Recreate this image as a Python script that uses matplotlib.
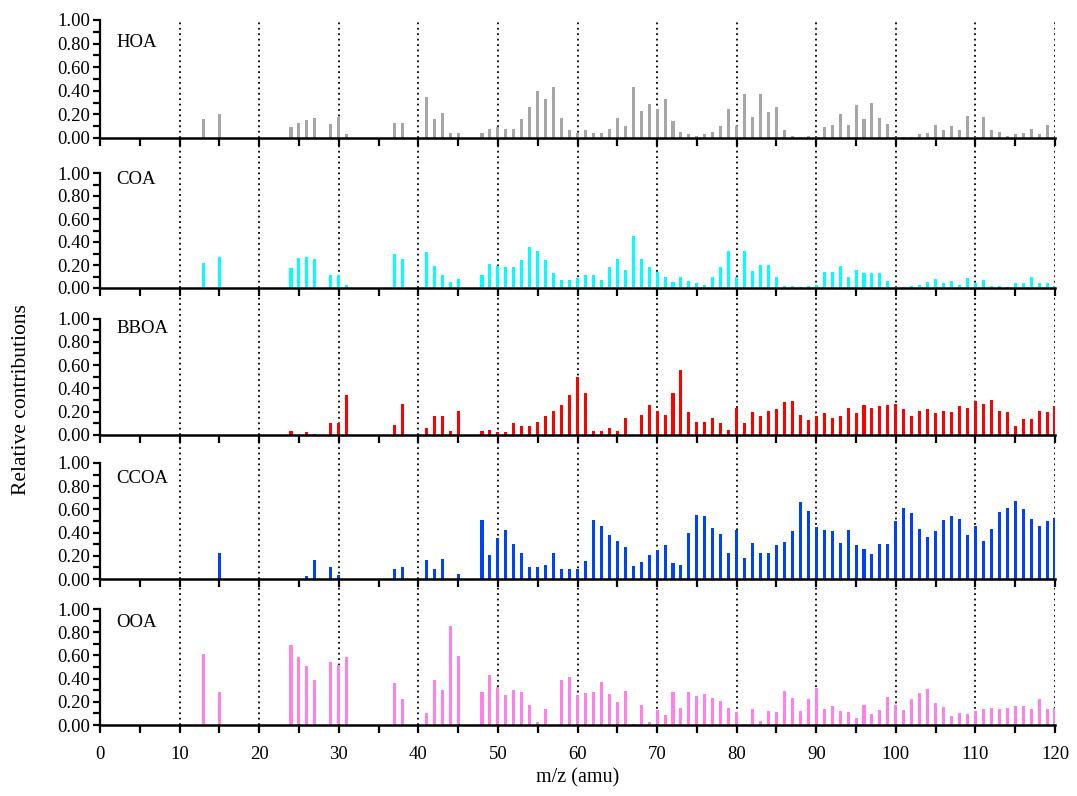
import numpy as np
import matplotlib
matplotlib.use("Agg")
import matplotlib.pyplot as plt
from matplotlib.ticker import MultipleLocator, FormatStrFormatter

plt.rcParams['font.family'] = ['Liberation Serif', 'DejaVu Serif']

# m/z channels shown in the factor profiles
mz = [13, 15, 24, 25, 26, 27, 29, 30, 31, 37, 38, 41, 42, 43, 44, 45,
      48, 49, 50, 51, 52, 53, 54, 55, 56, 57, 58, 59] + list(range(60, 121))

hoa = [0.16, 0.20, 0.09, 0.13, 0.15, 0.17, 0.12, 0.18, 0.03, 0.13, 0.13, 0.35, 0.16, 0.21, 0.04, 0.045,
       0.04, 0.08, 0.09, 0.08, 0.08, 0.16, 0.26, 0.40, 0.33, 0.43, 0.17, 0.07,
       0.04, 0.065, 0.04, 0.04, 0.08, 0.17, 0.10, 0.43, 0.23, 0.29, 0.25,
       0.33, 0.14, 0.05, 0.03, 0.02, 0.03, 0.05, 0.10, 0.25, 0.10,
       0.37, 0.18, 0.37, 0.22, 0.26, 0.07, 0.02, 0.01, 0.02, 0.005,
       0.09, 0.11, 0.20, 0.11, 0.28, 0.16, 0.30, 0.17, 0.12, 0.005,
       0.01, 0.01, 0.03, 0.04, 0.11, 0.07, 0.10, 0.065, 0.19, 0.005,
       0.175, 0.07, 0.05, 0.02, 0.03, 0.04, 0.08, 0.03, 0.11, 0.005]

coa = [0.22, 0.27, 0.17, 0.26, 0.27, 0.255, 0.11, 0.11, 0.03, 0.30, 0.25, 0.31, 0.19, 0.11, 0.05, 0.08,
       0.11, 0.21, 0.19, 0.18, 0.185, 0.24, 0.36, 0.32, 0.24, 0.13, 0.07, 0.07,
       0.09, 0.11, 0.11, 0.07, 0.18, 0.255, 0.16, 0.45, 0.255, 0.18, 0.14,
       0.10, 0.05, 0.10, 0.06, 0.04, 0.03, 0.10, 0.18, 0.32, 0.10,
       0.32, 0.15, 0.20, 0.20, 0.10, 0.015, 0.02, 0.01, 0.02, 0.03,
       0.14, 0.14, 0.19, 0.10, 0.16, 0.13, 0.13, 0.13, 0.06, 0.01,
       0.01, 0.015, 0.03, 0.05, 0.08, 0.04, 0.06, 0.03, 0.09, 0.04,
       0.07, 0.02, 0.015, 0.01, 0.04, 0.04, 0.10, 0.04, 0.04, 0.02]

bboa = [0.0, 0.0, 0.035, 0.0, 0.026, 0.01, 0.105, 0.105, 0.34, 0.09, 0.27, 0.06, 0.165, 0.165, 0.035, 0.21,
        0.035, 0.043, 0.026, 0.026, 0.10, 0.08, 0.08, 0.115, 0.16, 0.21, 0.26, 0.34,
        0.50, 0.36, 0.035, 0.035, 0.06, 0.035, 0.15, 0.003, 0.175, 0.26, 0.21,
        0.175, 0.36, 0.56, 0.20, 0.115, 0.115, 0.15, 0.10, 0.043, 0.235,
        0.10, 0.20, 0.16, 0.21, 0.22, 0.28, 0.29, 0.175, 0.125, 0.16,
        0.185, 0.15, 0.16, 0.235, 0.19, 0.26, 0.235, 0.245, 0.26, 0.27,
        0.22, 0.16, 0.21, 0.22, 0.19, 0.21, 0.20, 0.25, 0.23, 0.29,
        0.27, 0.30, 0.21, 0.20, 0.077, 0.14, 0.14, 0.21, 0.20, 0.25]

ccoa = [0.0, 0.225, 0.0, 0.0, 0.023, 0.165, 0.10, 0.035, 0.0, 0.09, 0.10, 0.165, 0.09, 0.17, 0.003, 0.045,
        0.505, 0.205, 0.355, 0.425, 0.305, 0.225, 0.10, 0.10, 0.12, 0.225, 0.083, 0.083,
        0.09, 0.155, 0.505, 0.46, 0.38, 0.33, 0.28, 0.11, 0.145, 0.205, 0.25,
        0.295, 0.135, 0.12, 0.40, 0.55, 0.54, 0.44, 0.39, 0.225, 0.425,
        0.18, 0.31, 0.225, 0.225, 0.295, 0.32, 0.41, 0.665, 0.59, 0.45,
        0.425, 0.415, 0.31, 0.425, 0.295, 0.26, 0.215, 0.30, 0.30, 0.50,
        0.61, 0.565, 0.435, 0.365, 0.41, 0.505, 0.54, 0.52, 0.38, 0.46,
        0.33, 0.435, 0.575, 0.61, 0.67, 0.60, 0.515, 0.46, 0.50, 0.53]

ooa = [0.61, 0.287, 0.69, 0.585, 0.505, 0.385, 0.54, 0.52, 0.585, 0.365, 0.225, 0.105, 0.385, 0.305, 0.85, 0.595,
       0.287, 0.435, 0.33, 0.26, 0.305, 0.287, 0.17, 0.03, 0.14, 0.003, 0.39, 0.41,
       0.26, 0.28, 0.287, 0.375, 0.27, 0.20, 0.295, 0.005, 0.17, 0.03, 0.13,
       0.083, 0.287, 0.146, 0.287, 0.252, 0.27, 0.232, 0.206, 0.146, 0.112,
       0.009, 0.138, 0.034, 0.12, 0.112, 0.295, 0.232, 0.12, 0.223, 0.32,
       0.138, 0.163, 0.12, 0.112, 0.057, 0.17, 0.095, 0.13, 0.243, 0.17,
       0.13, 0.223, 0.28, 0.31, 0.19, 0.155, 0.075, 0.10, 0.095, 0.12,
       0.138, 0.146, 0.138, 0.146, 0.163, 0.163, 0.138, 0.226, 0.138, 0.146]

factor_names = ["HOA", "COA", "BBOA", "CCOA", "OOA"]
profiles = [hoa, coa, bboa, ccoa, ooa]
colors = ["#a6a6a6", "#00ffff", "#ff0000", "#0040ff", "#ff80e6"]

W, H = 1077, 796
fig = plt.figure(figsize=(W / 100, H / 100), dpi=100)

left_px, right_px = 100, 1055
baselines = [138, 288, 435, 579, 725]      # pixel row of y = 0 in each panel
tops = [20, 138, 288, 435, 579]            # pixel row of the panel top
unit_px = [118, 115, 116.5, 116, 116]      # pixels per unit of y
label_y = [0.81, 0.94, 0.91, 0.87, 0.88]

axes = []
for i, name in enumerate(factor_names):
    b, t = baselines[i], tops[i]
    ax = fig.add_axes([left_px / W, 1 - b / H, (right_px - left_px) / W, (b - t) / H])
    axes.append(ax)
    ax.bar(mz, profiles[i], width=0.38, color=colors[i], linewidth=0, zorder=2)
    ax.set_xlim(0, 120)
    ax.set_ylim(0, (b - t) / unit_px[i])
    for xv in range(10, 121, 10):
        ax.axvline(xv, color="black", linestyle=(0, (1, 2)), linewidth=1.3, zorder=1)
    for s in ("top", "right"):
        ax.spines[s].set_visible(False)
    ax.spines["left"].set_bounds(0, 1.0)
    ax.spines["left"].set_linewidth(1.6)
    ax.spines["bottom"].set_linewidth(1.8)
    ax.yaxis.set_major_formatter(FormatStrFormatter("%.2f"))
    ax.set_yticks([0, 0.2, 0.4, 0.6, 0.8, 1.0])
    ax.set_yticks(np.arange(0.1, 1.0, 0.2), minor=True)
    ax.xaxis.set_major_locator(MultipleLocator(10))
    ax.xaxis.set_minor_locator(MultipleLocator(5))
    ax.tick_params(axis="both", which="both", direction="out", width=1.6, length=5, labelsize=13.5)
    ax.tick_params(axis="y", which="both", length=5, pad=2)
    ax.tick_params(axis="x", which="both", length=6)
    ax.patch.set_alpha(0)
    if i < len(factor_names) - 1:
        ax.tick_params(axis="x", labelbottom=False)
    ax.text(2.1, label_y[i], name, fontsize=13.5, ha="left", va="center")

axes[-1].set_xlabel("m/z (amu)", fontsize=14.5, labelpad=4)
axes[-1].tick_params(axis="x", pad=9)
fig.text(22 / W, 1 - 400 / H, "Relative contributions", rotation=90,
         fontsize=15.5, ha="center", va="center")

fig.savefig("out.png", dpi=100)
